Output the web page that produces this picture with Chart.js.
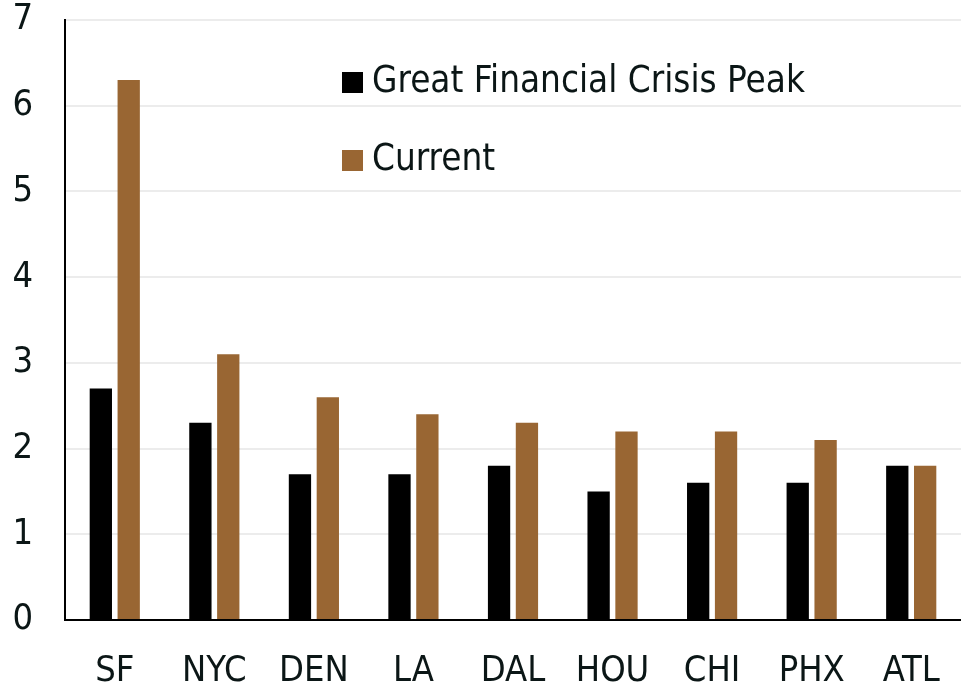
<!DOCTYPE html>
<html>
<head>
<meta charset="utf-8">
<script src="https://cdn.jsdelivr.net/npm/chart.js@4"></script>
<style>
  html, body { margin: 0; padding: 0; background: #fff; }
  #wrap { width: 961px; height: 692px; }
</style>
</head>
<body>
<div id="wrap"><canvas id="chart" width="961" height="692"></canvas></div>
<script>
// Data
const cities = ['SF', 'NYC', 'DEN', 'LA', 'DAL', 'HOU', 'CHI', 'PHX', 'ATL'];
const gfcPeak = [2.7, 2.3, 1.7, 1.7, 1.8, 1.5, 1.6, 1.6, 1.8];
const current = [6.3, 3.1, 2.6, 2.4, 2.3, 2.2, 2.2, 2.1, 1.8];
const seriesNames = ['Great Financial Crisis Peak', 'Current'];
const yTicks = [0, 1, 2, 3, 4, 5, 6, 7];

const FONT = 'Tahoma, "DejaVu Sans Condensed", "DejaVu Sans", sans-serif';
const TEXT = '#0b1616';

// Legend drawn inside the plot area
const innerLegend = {
  id: 'innerLegend',
  afterDraw(chart) {
    const ctx = chart.ctx;
    const x = 342, rows = [82, 160];
    ctx.save();
    ctx.font = '36.5px ' + FONT;
    ctx.textBaseline = 'middle';
    chart.data.datasets.forEach((ds, i) => {
      ctx.fillStyle = ds.backgroundColor;
      ctx.fillRect(x, rows[i] - 10, 21, 21);
      ctx.fillStyle = TEXT;
      ctx.fillText(ds.label, x + 30, rows[i] + 1);
    });
    ctx.restore();
  }
};

new Chart(document.getElementById('chart').getContext('2d'), {
  type: 'bar',
  data: {
    labels: cities,
    datasets: [
      { label: seriesNames[0], data: gfcPeak, backgroundColor: '#000000' },
      { label: seriesNames[1], data: current, backgroundColor: '#996633' }
    ]
  },
  options: {
    responsive: false,
    animation: false,
    devicePixelRatio: 1,
    layout: { padding: { top: 20, right: 0, left: 0, bottom: 0 } },
    datasets: {
      bar: { categoryPercentage: 0.56, barPercentage: 0.8 }
    },
    plugins: {
      legend: { display: false },
      tooltip: { enabled: false }
    },
    scales: {
      x: {
        grid: { display: false, drawTicks: false },
        border: { color: '#000', width: 2 },
        ticks: { color: TEXT, font: { family: FONT, size: 36 }, padding: 30, maxRotation: 0 },
        afterFit(scale) {
          scale.height = 72;
          scale.paddingLeft = 0;
          scale.paddingRight = -4;
        }
      },
      y: {
        min: 0,
        max: 7,
        afterBuildTicks(scale) { scale.ticks = yTicks.map(v => ({ value: v })); },
        grid: { color: '#ececec', lineWidth: 2, drawTicks: false },
        border: { color: '#000', width: 2 },
        ticks: { color: TEXT, font: { family: FONT, size: 36 }, padding: 32 },
        afterFit(scale) {
          scale.width = 65;
          scale.paddingTop = 0;
          scale.paddingBottom = 0;
        }
      }
    }
  },
  plugins: [innerLegend]
});
</script>
</body>
</html>
